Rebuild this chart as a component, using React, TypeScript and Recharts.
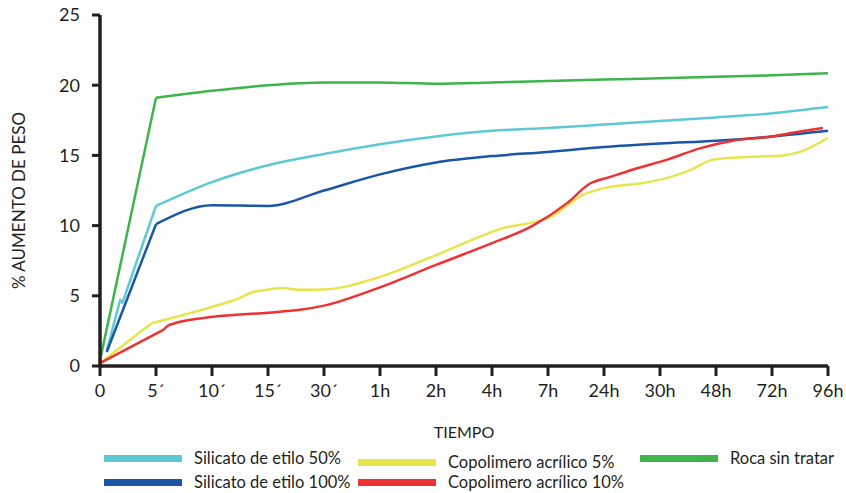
import React from "react"
import { Label, Line, LineChart, XAxis, YAxis } from "recharts"

const TICK_LABELS = ["0", "5´", "10´", "15´", "30´", "1h", "2h", "4h", "7h", "24h", "30h", "48h", "72h", "96h"]
const X_TICKS = TICK_LABELS.map((_, i) => i)
const Y_TICKS = [0, 5, 10, 15, 20, 25]

// x = position on the category axis (0 = "0", 13 = "96h")
const rocaX = [0, 1, 2, 3, 4, 5, 6, 7, 8, 9, 10, 11, 12, 13]
const rocaY = [0.4, 19.1, 19.6, 20.0, 20.2, 20.2, 20.1, 20.2, 20.3, 20.4, 20.5, 20.6, 20.7, 20.85]

const sil50X = [0.12, 0.36, 0.4, 1, 2, 3, 4, 5, 6, 7, 8, 9, 10, 11, 12, 13]
const sil50Y = [1.1, 4.7, 4.5, 11.4, 13.1, 14.3, 15.1, 15.8, 16.35, 16.75, 16.95, 17.2, 17.45, 17.7, 18.0, 18.45]

const sil100X = [0.12, 1, 2, 3, 4, 5, 6, 7, 8, 9, 10, 11, 12, 13]
const sil100Y = [1.0, 10.1, 11.45, 11.4, 12.5, 13.65, 14.5, 14.95, 15.25, 15.6, 15.85, 16.05, 16.35, 16.75]

const cop5X = [0, 0.92, 2.02, 2.5, 2.68, 2.98, 3.27, 3.57, 4, 5, 6, 7, 7.14, 8.04, 8.63, 9.1, 9.64, 10.13, 10.54, 10.95, 11.6, 12.2, 12.5, 13]
const cop5Y = [0.2, 3.05, 4.24, 4.85, 5.2, 5.43, 5.55, 5.43, 5.45, 6.35, 7.9, 9.55, 9.75, 10.6, 12.2, 12.75, 13.0, 13.4, 13.95, 14.7, 14.9, 15.0, 15.25, 16.26]

const cop10X = [0, 1.13, 1.22, 1.43, 2.02, 3, 3.57, 4, 5, 6, 7, 7.73, 8.34, 8.75, 9.1, 9.52, 10.13, 10.71, 11.3, 11.91, 12.5, 12.91]
const cop10Y = [0.2, 2.57, 2.9, 3.15, 3.5, 3.8, 4.0, 4.3, 5.6, 7.2, 8.75, 10.0, 11.6, 13.0, 13.45, 14.0, 14.7, 15.5, 16.05, 16.3, 16.7, 16.95]

// "edge" = index where the straight start of the line ends and the smooth part begins
const SERIES = [
  { name: "Silicato de etilo 50%", color: "#5ec8d4", xs: sil50X, ys: sil50Y, edge: 3 },
  { name: "Silicato de etilo 100%", color: "#1b55a5", xs: sil100X, ys: sil100Y, edge: 1 },
  { name: "Copolimero acrílico 5%", color: "#e8e44c", xs: cop5X, ys: cop5Y, edge: 1 },
  { name: "Copolimero acrílico 10%", color: "#ee3234", xs: cop10X, ys: cop10Y, edge: 2 },
  { name: "Roca sin tratar", color: "#3db54a", xs: rocaX, ys: rocaY, edge: 1 },
]

const FONT = "Lato, 'Open Sans', sans-serif"
const INK = "#231f20"

const toPoints = (xs: number[], ys: number[]) => xs.map((x, i) => ({ x, y: ys[i] }))

// legend slots: [left, top] per series, in SERIES order
const LEGEND_POS: [number, number][] = [
  [104, 449],
  [104, 473],
  [358, 453],
  [358, 473],
  [640, 449],
]

function YTitle({ viewBox }: any) {
  const cx = viewBox.x + 18
  const cy = viewBox.y + viewBox.height / 2 + 10
  return (
    <text
      x={cx}
      y={cy}
      transform={`rotate(-90 ${cx} ${cy})`}
      textAnchor="middle"
      dominantBaseline="central"
      fill={INK}
      style={{ fontFamily: FONT, fontSize: 17 }}
    >
      % AUMENTO DE PESO
    </text>
  )
}

export default function App() {
  return (
    <div style={{ position: "absolute", left: 0, top: 0, width: 846, height: 493, background: "#fff", fontFamily: FONT }}>
      <LineChart width={846} height={493} margin={{ top: 15, right: 18, bottom: 55, left: 0 }}>
        <XAxis
          type="number"
          dataKey="x"
          domain={[0, 13]}
          ticks={X_TICKS}
          interval={0}
          tickFormatter={(v) => TICK_LABELS[v]}
          height={72}
          tickSize={10}
          tickMargin={8}
          axisLine={{ stroke: INK, strokeWidth: 3.5 }}
          tickLine={{ stroke: INK, strokeWidth: 3 }}
          tick={{ fill: INK, fontSize: 18, fontFamily: FONT }}
        >
          <Label value="TIEMPO" position="insideBottom" offset={0} style={{ fill: INK, fontSize: 16, fontFamily: FONT }} />
        </XAxis>
        <YAxis
          type="number"
          domain={[0, 25]}
          ticks={Y_TICKS}
          width={100}
          tickSize={8}
          tickMargin={12}
          axisLine={{ stroke: INK, strokeWidth: 3.5 }}
          tickLine={{ stroke: INK, strokeWidth: 3 }}
          tick={{ fill: INK, fontSize: 18, fontFamily: FONT }}
        >
          <Label content={YTitle} />
        </YAxis>
        {SERIES.map((s) => {
          const pts = toPoints(s.xs, s.ys)
          return [
            <Line
              key={s.name + "-start"}
              data={pts.slice(0, s.edge + 1)}
              dataKey="y"
              name={s.name}
              type="linear"
              stroke={s.color}
              strokeWidth={2.5}
              strokeLinejoin="round"
              dot={false}
              activeDot={false}
              isAnimationActive={false}
            />,
            <Line
              key={s.name}
              data={pts.slice(s.edge)}
              dataKey="y"
              name={s.name}
              type="monotone"
              stroke={s.color}
              strokeWidth={2.5}
              dot={false}
              activeDot={false}
              isAnimationActive={false}
            />,
          ]
        })}
      </LineChart>
      {SERIES.map((s, i) => (
        <div
          key={s.name}
          style={{
            position: "absolute",
            left: LEGEND_POS[i][0],
            top: LEGEND_POS[i][1],
            display: "flex",
            alignItems: "center",
            height: 18,
            lineHeight: "18px",
            color: INK,
            fontSize: 16.5,
            whiteSpace: "nowrap",
          }}
        >
          <span style={{ display: "inline-block", width: 78, height: 7, background: s.color, marginRight: 12 }} />
          {s.name}
        </div>
      ))}
    </div>
  )
}
